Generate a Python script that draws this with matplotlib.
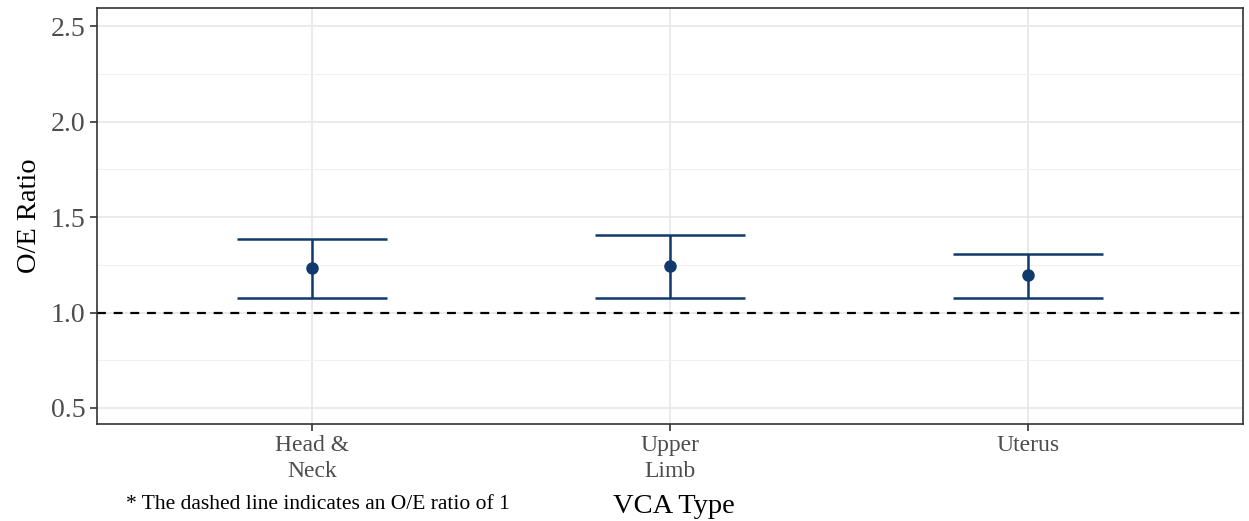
import numpy as np
import matplotlib.pyplot as plt

# data
categories = ['Head &\nNeck', 'Upper\nLimb', 'Uterus']
oe_ratio = [1.232, 1.242, 1.195]
ci_low = [1.074, 1.074, 1.074]
ci_high = [1.384, 1.405, 1.305]

plt.rcParams['font.family'] = ['Liberation Serif', 'DejaVu Serif']

navy = '#0f3a6b'
fig = plt.figure(figsize=(12.49, 5.21), dpi=100)
ax = fig.add_axes([97/1249, 1 - 424/521, (1243-97)/1249, (424-8)/521])

x = np.arange(1, len(categories) + 1)
yerr = [np.array(oe_ratio) - np.array(ci_low), np.array(ci_high) - np.array(oe_ratio)]

# reference line at O/E = 1
ax.axhline(1.0, color='black', lw=1.6, ls=(0, (4, 3.5)), zorder=2)

ax.errorbar(x, oe_ratio, yerr=yerr, fmt='o', color=navy, ms=8, elinewidth=1.8,
            capsize=54, capthick=1.8, zorder=3)

ax.set_xlim(0.4, 3.6)
ax.set_ylim(0.416, 2.595)
ax.set_xticks(x)
ax.set_xticklabels(categories, fontsize=17, color='#4d4d4d', linespacing=1.3)
ax.set_yticks([0.5, 1.0, 1.5, 2.0, 2.5])
ax.set_yticklabels(['0.5', '1.0', '1.5', '2.0', '2.5'], fontsize=20, color='#4d4d4d')
ax.set_yticks([0.75, 1.25, 1.75, 2.25], minor=True)
ax.tick_params(axis='y', which='minor', length=0)
ax.tick_params(axis='both', which='major', length=5, width=1.2, color='#333333')
ax.tick_params(axis='x', pad=3)

ax.grid(True, which='major', color='#e6e6e6', lw=1.2, zorder=0)
ax.grid(True, which='minor', axis='y', color='#f0f0f0', lw=0.8, zorder=0)
ax.set_axisbelow(True)
for s in ax.spines.values():
    s.set_color('#333333')
    s.set_linewidth(1.2)

ax.set_ylabel('O/E Ratio', fontsize=20.5, labelpad=6)
fig.text(674/1249, 1 - 513/521, 'VCA Type', fontsize=20.5, ha='center', va='baseline')
fig.text(126/1249, 1 - 509/521, '* The dashed line indicates an O/E ratio of 1',
         fontsize=15.5, ha='left', va='baseline')

fig.savefig('out.png', dpi=100)
